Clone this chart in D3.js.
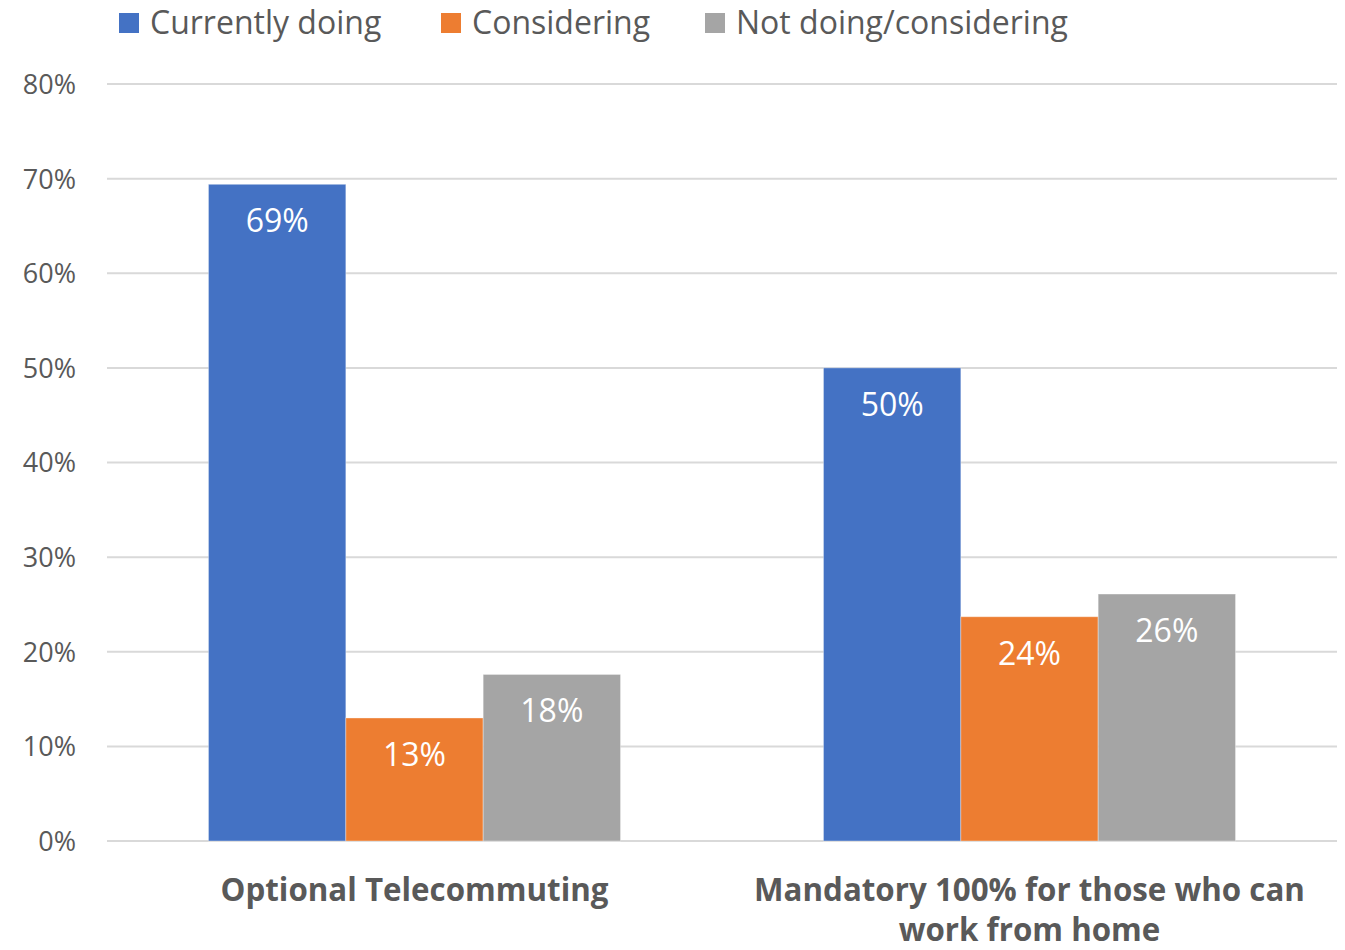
<!DOCTYPE html>
<html><head><meta charset="utf-8">
<script src="https://cdn.jsdelivr.net/npm/d3@7"></script>
<style>html,body{margin:0;padding:0;background:#fff;}</style>
</head><body>
<svg id="chart" width="1345" height="950"></svg>
<script>
const categories = ["Optional Telecommuting", "Mandatory 100% for those who can work from home"];
const categoryLines = [["Optional Telecommuting"], ["Mandatory 100% for those who can", "work from home"]];
const seriesNames = ["Currently doing", "Considering", "Not doing/considering"];
const seriesColors = ["#4472C4", "#ED7D31", "#A5A5A5"];
const currentlyDoing = [0.694, 0.500];
const considering = [0.130, 0.237];
const notDoing = [0.176, 0.261];
const yTicks = [0, 0.1, 0.2, 0.3, 0.4, 0.5, 0.6, 0.7, 0.8];

const seriesValues = [currentlyDoing, considering, notDoing];
const svg = d3.select("#chart");
const font = "'Open Sans', 'Noto Sans', sans-serif";
const mLeft = 107, mRight = 1337, mTop = 84, mBottom = 841;

const x0 = d3.scaleBand().domain(categories).range([mLeft, mRight]).paddingInner(0.33).paddingOuter(0.165);
const x1 = d3.scaleBand().domain(seriesNames).range([0, x0.bandwidth()]);
const y = d3.scaleLinear().domain([0, 0.8]).range([mBottom, mTop]);

// gridlines
svg.append("g").selectAll("line").data(yTicks).join("line")
  .attr("x1", mLeft).attr("x2", mRight)
  .attr("y1", d => y(d)).attr("y2", d => y(d))
  .attr("stroke", "#d9d9d9").attr("stroke-width", 2);

// y axis labels
const yAxis = d3.axisLeft(y).tickValues(yTicks).tickFormat(d3.format(".0%")).tickSize(0).tickPadding(0);
const ya = svg.append("g").attr("transform", `translate(76,0)`).call(yAxis);
ya.select(".domain").remove();
ya.selectAll("text").attr("font-family", font).attr("font-size", 27).attr("fill", "#595959").attr("dy", "0.35em");

// bars
const rows = [];
categories.forEach((c, i) => seriesNames.forEach((s, j) => rows.push({c, s, j, v: seriesValues[j][i]})));
svg.append("g").selectAll("rect").data(rows).join("rect")
  .attr("x", d => x0(d.c) + x1(d.s))
  .attr("y", d => y(d.v))
  .attr("width", x1.bandwidth())
  .attr("height", d => y(0) - y(d.v))
  .attr("fill", d => seriesColors[d.j])
  .attr("stroke", "rgba(255,255,255,0.35)").attr("stroke-width", 1);

// data labels
svg.append("g").selectAll("text").data(rows).join("text")
  .attr("x", d => x0(d.c) + x1(d.s) + x1.bandwidth() / 2)
  .attr("y", d => y(d.v) + 48)
  .attr("text-anchor", "middle")
  .attr("font-family", font).attr("font-size", 32).attr("fill", "#fff")
  .text(d => d3.format(".0%")(d.v));

// category labels
const cg = svg.append("g");
categories.forEach((c, i) => {
  const t = cg.append("text").attr("text-anchor", "middle")
    .attr("font-family", font).attr("font-weight", "bold").attr("font-size", 31.3).attr("fill", "#595959");
  categoryLines[i].forEach((line, k) => {
    t.append("tspan").attr("x", x0(c) + x0.bandwidth() / 2).attr("y", 901 + k * 40).text(line);
  });
});

// legend
const legendX = [119, 441, 705];
const lg = svg.append("g");
seriesNames.forEach((s, j) => {
  lg.append("rect").attr("x", legendX[j]).attr("y", 13).attr("width", 20).attr("height", 20).attr("fill", seriesColors[j]);
  lg.append("text").attr("x", legendX[j] + 31).attr("y", 34)
    .attr("font-family", font).attr("font-size", 32).attr("fill", "#595959").text(s);
});
</script>
</body></html>
